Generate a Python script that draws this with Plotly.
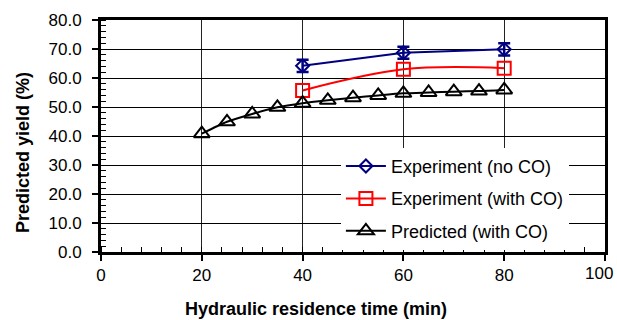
import plotly.graph_objects as go

x_exp = [40, 60, 80]
y_no_co = [64.2, 68.7, 69.9]
err_no_co = [2.1, 2.1, 2.1]
y_with_co = [55.7, 63.0, 63.4]
x_pred = [20, 25, 30, 35, 40, 45, 50, 55, 60, 65, 70, 75, 80]
y_pred = [40.8, 44.9, 47.6, 49.9, 51.3, 52.3, 53.2, 54.0, 54.7, 55.0, 55.3, 55.5, 55.9]

x_tickvals = [0, 20, 40, 60, 80, 100]
x_ticktext = ["0", "20", "40", "60", "80", ""]
x_last_label = "100"
y_tickvals = [0, 10, 20, 30, 40, 50, 60, 70, 80]

x_title = "Hydraulic residence time (min)"
y_title = "Predicted yield (%)"

FONT = "Liberation Sans, Arial, sans-serif"

fig = go.Figure()
fig.add_trace(go.Scatter(
    x=x_exp, y=y_no_co, name="Experiment (no CO)", mode="lines+markers",
    line=dict(color="#000080", width=2),
    marker=dict(symbol="diamond-open", size=10, color="#000080", line=dict(width=2)),
    error_y=dict(type="data", array=err_no_co, visible=True, color="#000080", thickness=2.5, width=6),
    legendgroup="a"))
fig.add_trace(go.Scatter(
    x=x_exp, y=y_with_co, name="Experiment (with CO)", mode="lines+markers",
    line=dict(color="#ff0000", width=2, shape="spline", smoothing=1),
    marker=dict(symbol="square-open", size=13, color="#ff0000", line=dict(width=2)),
    legendgroup="b"))
fig.add_trace(go.Scatter(
    x=x_pred, y=y_pred, name="Predicted (with CO)", mode="lines+markers",
    line=dict(color="#000000", width=2, shape="spline", smoothing=0.6),
    marker=dict(symbol="triangle-up-open", size=14, color="#000000", line=dict(width=2)),
    legendgroup="c"))

fig.update_layout(
    width=617, height=320,
    margin=dict(l=101, r=12, t=20, b=68),
    paper_bgcolor="white", plot_bgcolor="white",
    font=dict(family=FONT, size=17, color="black"),
    showlegend=True,
    legend=dict(x=0.476, y=0.449, xanchor="left", yanchor="top",
                bgcolor="white", borderwidth=0, font=dict(size=18),
                traceorder="grouped", tracegroupgap=6, itemwidth=40),
    xaxis=dict(range=[0, 100], tickvals=x_tickvals, ticktext=x_ticktext,
               automargin=False,
               showgrid=True, gridcolor="#222222", gridwidth=1,
               showline=True, linecolor="black", linewidth=3, mirror=True,
               ticks="outside", ticklen=6, tickwidth=2, tickcolor="black",
               minor=dict(dtick=4, ticks="inside", ticklen=5, tickwidth=1, tickcolor="black", showgrid=False),
               zeroline=False),
    yaxis=dict(range=[0, 80], tickvals=y_tickvals,
               tickformat=".1f", automargin=False, ticklabelstandoff=7,
               showgrid=True, gridcolor="black", gridwidth=1,
               showline=True, linecolor="black", linewidth=3, mirror=True,
               ticks="outside", ticklen=6, tickwidth=2, tickcolor="black",
               minor=dict(dtick=2, ticks="inside", ticklen=5, tickwidth=1, tickcolor="black", showgrid=False),
               zeroline=False),
    annotations=[
        dict(text=x_last_label, xref="x", yref="paper",
             x=x_tickvals[-1], y=-0.0948, xanchor="center", yanchor="middle",
             xshift=-6, showarrow=False, font=dict(size=17)),
        dict(text="<b>" + x_title + "</b>", xref="paper", yref="paper",
             x=0.4266, y=-0.2457, xanchor="center", yanchor="middle",
             showarrow=False, font=dict(size=18)),
        dict(text="<b>" + y_title + "</b>", xref="paper", yref="paper",
             x=-0.1548, y=0.431, xanchor="center", yanchor="middle", textangle=-90,
             showarrow=False, font=dict(size=18)),
    ],
)

fig.write_html("out.html")
